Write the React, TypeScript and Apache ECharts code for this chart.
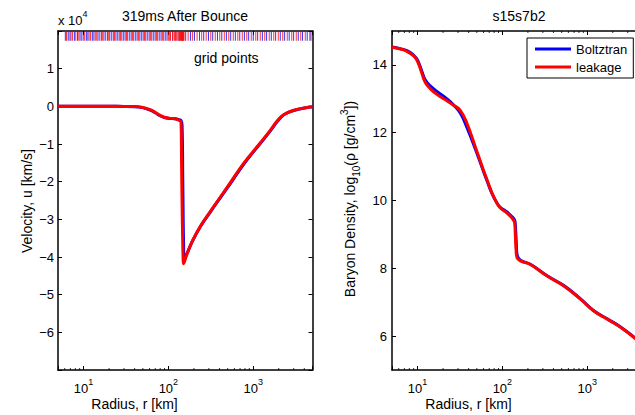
import React, { useEffect, useRef } from 'react';
import * as echarts from 'echarts';

const FONT = 'Liberation Sans, Arial, Helvetica, sans-serif';

// ---------- Left panel: velocity (km/s) vs radius (km) ----------
const velRadiusBoltztran = [5, 10, 20, 30, 40, 50, 61, 70, 80, 90, 104, 120, 131, 141, 145, 148, 151, 155, 170, 195, 242, 318, 415, 546, 783, 1230, 1610, 1930, 2310, 3000, 4645, 5000];
const velBoltztran = [0, 0, 0, -20, -80, -350, -1000, -1700, -2500, -3000, -3200, -3300, -3500, -3800, -5000, -20000, -36000, -40500, -38500, -35500, -31700, -27800, -24100, -20300, -15200, -9700, -6400, -4000, -2200, -1100, -200, -100];

const velRadiusLeakage = [5, 10, 20, 30, 40, 50, 61, 70, 80, 90, 104, 120, 131, 141, 143, 146, 149, 151, 166, 190, 236, 310, 406, 532, 763, 1200, 1572, 1883, 2255, 2951, 4645, 5000];
const velLeakage = [0, 0, 0, -20, -50, -300, -900, -1600, -2400, -2900, -3200, -3300, -3600, -4200, -15000, -30000, -40000, -41800, -39200, -36000, -32000, -28000, -24200, -20400, -15300, -9800, -6500, -4100, -2300, -1100, -200, -100];

// grid point locations (km), drawn as ticks at the top of the left panel
const gridBoltztran = [6.1, 6.6, 7.1, 7.8, 8.5, 9.1, 9.9, 10.8, 11.6, 12.7, 13.7, 14.8, 16.2, 17.4, 19.1, 20.4, 22.4, 24.1, 26.3, 28.3, 30.9, 33.2, 36.4, 39.1, 42.8, 46.1, 50.4, 54.2, 59.3, 63.8, 69.8, 75.0, 82.0, 88.3, 96.4, 104, 113, 122, 134, 145, 160, 182, 203, 233, 261, 297, 333, 379, 426, 483, 543, 616, 694, 787, 884, 1002, 1128, 1283, 1438, 1634, 1838, 2085, 2347, 2657, 2995, 3398, 3815, 4330, 4790];
const gridLeakage = [6.3, 6.9, 7.4, 8.1, 8.8, 9.5, 10.3, 11.2, 12.1, 13.2, 14.3, 15.5, 16.8, 18.2, 19.8, 21.4, 23.2, 25.2, 27.3, 29.6, 32.1, 34.8, 37.7, 41.0, 44.4, 48.2, 52.3, 56.6, 61.4, 66.7, 72.3, 78.4, 85.0, 92.3, 100, 106, 112, 118, 124, 129, 133, 136, 139, 141, 143, 145, 147, 149, 151, 153, 171, 192, 218, 247, 279, 316, 357, 403, 456, 515, 582, 658, 743, 840, 949, 1072, 1211, 1368, 1546, 1747, 1974, 2230, 2520, 2847, 3217, 3635, 4107, 4640];
const gridTickLevel = 18600;

// ---------- Right panel: log10 baryon density vs radius ----------
const densRadius = [5, 6.25, 7.5, 8.97, 9.7, 10.3, 11.3, 12.3, 14.1, 16.9, 22.2, 26.6, 31.9, 38.3, 48, 56, 65.9, 75.5, 86.5, 94.6, 113.5, 130, 139.6, 142, 145, 149, 163, 214, 337, 530, 834, 1197, 1722, 2473, 3720, 5000];
const densBoltztran = [14.53, 14.48, 14.42, 14.29, 14.19, 14.07, 13.8, 13.56, 13.38, 13.22, 13.0, 12.82, 12.58, 12.15, 11.52, 11.06, 10.58, 10.2, 9.92, 9.8, 9.66, 9.52, 9.42, 9.3, 8.9, 8.4, 8.24, 8.12, 7.78, 7.49, 7.1, 6.75, 6.51, 6.27, 5.93, 5.63];
const densLeakage = [14.52, 14.47, 14.40, 14.27, 14.16, 14.03, 13.74, 13.49, 13.30, 13.13, 12.94, 12.81, 12.66, 12.27, 11.58, 11.1, 10.61, 10.22, 9.92, 9.78, 9.63, 9.48, 9.34, 9.0, 8.55, 8.31, 8.22, 8.11, 7.77, 7.48, 7.09, 6.74, 6.50, 6.26, 5.92, 5.62];

// axes
const radiusMin = 5;
const radiusMax = 5000;
const minorTickRadii = [6, 7, 8, 9, 20, 30, 40, 50, 60, 70, 80, 90, 200, 300, 400, 500, 600, 700, 800, 900, 2000, 3000, 4000];
const velMin = -70000;
const velMax = 20000;
const velStep = 10000;
const densMin = 5;
const densMax = 15;
const densTicks = [6, 8, 10, 12, 14];

const zip = (xs: number[], ys: number[]) => xs.map((x, i) => [x, ys[i]]);

const BLUE = '#0000ff';
const RED = '#ff0000';

function buildOption() {
  const axisLine = { show: true, onZero: false, lineStyle: { color: '#000', width: 1.5 } };
  const axisTick = { show: true, inside: true, length: 4, lineStyle: { color: '#000', width: 1 } };
  const logLabel = (v: number) => {
    const l = Math.log10(v);
    const e = Math.round(l);
    if (Math.abs(l - e) > 1e-6) return '';
    return `{b|10}{s|${e}}`;
  };
  const logRich = {
    b: { fontSize: 13, fontFamily: FONT, color: '#000', lineHeight: 22 },
    s: { fontSize: 9, fontFamily: FONT, color: '#000', lineHeight: 10, verticalAlign: 'top' },
  };
  const xBottom = (gi: number) => ({
    type: 'log', logBase: 10, gridIndex: gi, min: radiusMin, max: radiusMax, position: 'bottom',
    axisLine, axisTick,
    axisLabel: { formatter: logLabel, rich: logRich, margin: 7, color: '#000' },
    splitLine: { show: false }, minorTick: { show: false },
  });
  const xTop = (gi: number) => ({
    type: 'log', logBase: 10, gridIndex: gi, min: radiusMin, max: radiusMax, position: 'top',
    axisLine, axisTick, axisLabel: { show: false }, splitLine: { show: false },
  });
  const minorTickSeries = (xi: number, yi: number, y: number, down: boolean) => ({
    type: 'scatter', xAxisIndex: xi, yAxisIndex: yi, silent: true, z: 3,
    symbol: 'rect', symbolSize: [1, 2], symbolOffset: [0, down ? 1 : -1],
    itemStyle: { color: '#000' },
    data: minorTickRadii.map((r) => [r, y]),
  });
  const lineSeries = (name: string, color: string, xi: number, yi: number, data: number[][], z: number, smooth: number) => ({
    name, type: 'line', xAxisIndex: xi, yAxisIndex: yi, data, color,
    showSymbol: false, symbol: 'none', smooth, z,
    lineStyle: { color, width: 3 },
    itemStyle: { color },
  });
  const fmtVel = (v: number) => {
    if (v === velMin || v === velMax) return '';
    const n = v / 1e4;
    return n < 0 ? '\u2212' + Math.abs(n) : String(n);
  };

  return {
    animation: false,
    backgroundColor: '#fff',
    textStyle: { fontFamily: FONT },
    grid: [
      { left: 58, top: 31, width: 254.5, height: 339 },
      { left: 392, top: 31, width: 254.5, height: 339 },
    ],
    xAxis: [xBottom(0), xTop(0), xBottom(1), xTop(1)],
    yAxis: [
      {
        type: 'value', gridIndex: 0, min: velMin, max: velMax, interval: velStep, position: 'left',
        axisLine, axisTick, splitLine: { show: false },
        axisLabel: { formatter: fmtVel, fontSize: 13, color: '#000', margin: 4, fontFamily: FONT },
      },
      {
        type: 'value', gridIndex: 0, min: velMin, max: velMax, interval: velStep, position: 'right',
        axisLine, axisTick, splitLine: { show: false }, axisLabel: { show: false },
      },
      {
        type: 'value', gridIndex: 1, min: densMin, max: densMax, position: 'left',
        axisLine, axisTick: { ...axisTick, customValues: densTicks }, splitLine: { show: false },
        axisLabel: { customValues: densTicks, fontSize: 13, color: '#000', margin: 5, fontFamily: FONT },
      },
      {
        type: 'value', gridIndex: 1, min: densMin, max: densMax, position: 'right',
        axisLine, axisTick: { ...axisTick, customValues: densTicks }, splitLine: { show: false },
        axisLabel: { show: false },
      },
    ],
    legend: {
      data: ['Boltztran', 'leakage'],
      orient: 'vertical', left: 527, top: 38,
      padding: [4, 6, 4, 8], itemWidth: 36, itemHeight: 3, itemGap: 4,
      icon: 'rect', selectedMode: false,
      borderColor: '#000', borderWidth: 1, borderRadius: 0, backgroundColor: '#fff',
      textStyle: { fontSize: 13, color: '#000', fontFamily: FONT, lineHeight: 14 },
    },
    series: [
      minorTickSeries(0, 0, velMin, false),
      minorTickSeries(2, 2, densMin, false),
      minorTickSeries(3, 2, densMax, true),
      {
        type: 'scatter', xAxisIndex: 0, yAxisIndex: 0, silent: true, z: 3,
        symbol: 'rect', symbolSize: [1, 9], itemStyle: { color: BLUE },
        data: gridBoltztran.map((r) => [r, gridTickLevel]),
      },
      {
        type: 'scatter', xAxisIndex: 0, yAxisIndex: 0, silent: true, z: 3,
        symbol: 'rect', symbolSize: [1, 9], itemStyle: { color: RED },
        data: gridLeakage.map((r) => [r, gridTickLevel]),
      },
      lineSeries('Boltztran', BLUE, 0, 0, zip(velRadiusBoltztran, velBoltztran), 4, 0.4),
      lineSeries('leakage', RED, 0, 0, zip(velRadiusLeakage, velLeakage), 5, 0.4),
      lineSeries('Boltztran', BLUE, 2, 2, zip(densRadius, densBoltztran), 4, 0.45),
      lineSeries('leakage', RED, 2, 2, zip(densRadius, densLeakage), 5, 0.45),
    ],
    graphic: [
      { type: 'text', x: 185, y: 15.5, style: { text: '319ms After Bounce', fontSize: 14, fontFamily: FONT, fill: '#000', align: 'center', verticalAlign: 'middle' } },
      { type: 'text', x: 519, y: 15.5, style: { text: 's15s7b2', fontSize: 14, fontFamily: FONT, fill: '#000', align: 'center', verticalAlign: 'middle' } },
      {
        type: 'text', x: 58, y: 20,
        style: {
          text: '{n|x 10}{s|4}', align: 'left', verticalAlign: 'middle', fill: '#000',
          rich: {
            n: { fontSize: 13, fontFamily: FONT, fill: '#000', lineHeight: 22 },
            s: { fontSize: 9, fontFamily: FONT, fill: '#000', lineHeight: 10, verticalAlign: 'top' },
          },
        },
      },
      { type: 'text', x: 194, y: 58, style: { text: 'grid points', fontSize: 14, fontFamily: FONT, fill: '#000', align: 'left', verticalAlign: 'middle' } },
      { type: 'text', x: 134.5, y: 404, style: { text: 'Radius, r [km]', fontSize: 14, fontFamily: FONT, fill: '#000', align: 'center', verticalAlign: 'middle' } },
      { type: 'text', x: 468.5, y: 404, style: { text: 'Radius, r [km]', fontSize: 14, fontFamily: FONT, fill: '#000', align: 'center', verticalAlign: 'middle' } },
      { type: 'text', x: 27, y: 201, rotation: Math.PI / 2, style: { text: 'Velocity, u [km/s]', fontSize: 14, fontFamily: FONT, fill: '#000', align: 'center', verticalAlign: 'middle' } },
      {
        type: 'text', x: 350, y: 199, rotation: Math.PI / 2,
        style: {
          text: '{n|Baryon Density, log}{sub|10}{n|(\u03c1 [g/cm}{sup|3}{n|])}',
          align: 'center', verticalAlign: 'middle', fill: '#000',
          rich: {
            n: { fontSize: 14, fontFamily: FONT, fill: '#000', lineHeight: 22 },
            sub: { fontSize: 10, fontFamily: FONT, fill: '#000', lineHeight: 11, verticalAlign: 'bottom' },
            sup: { fontSize: 10, fontFamily: FONT, fill: '#000', lineHeight: 11, verticalAlign: 'top' },
          },
        },
      },
    ],
  };
}

export default function App() {
  const ref = useRef<HTMLDivElement>(null);
  useEffect(() => {
    if (!ref.current) return;
    const chart = echarts.init(ref.current, null, { renderer: 'svg' });
    chart.setOption(buildOption() as any);
    return () => chart.dispose();
  }, []);
  return (
    <div style={{ position: 'absolute', left: 0, top: 0, width: 635, height: 415, overflow: 'hidden', background: '#fff' }}>
      <div ref={ref} style={{ width: 660, height: 415 }} />
    </div>
  );
}
